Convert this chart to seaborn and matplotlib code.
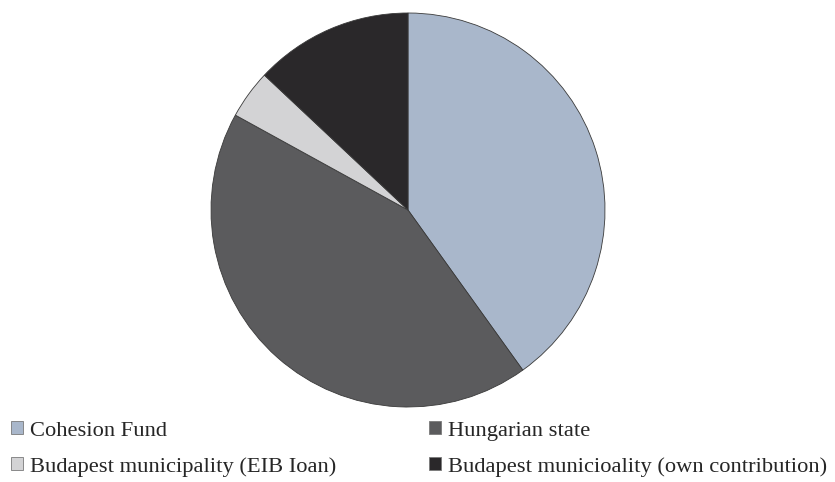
import matplotlib
matplotlib.use("Agg")
import matplotlib.pyplot as plt
from matplotlib.patches import Patch
import seaborn as sns

# Funding shares (%), clockwise from 12 o'clock
sources = ["Cohesion Fund", "Hungarian state",
           "Budapest municipality (EIB Ioan)",
           "Budapest municioality (own contribution)"]
shares = [40.1, 42.9, 4.0, 13.0]
colors = ["#A9B7CB", "#5B5B5D", "#D3D3D5", "#2A282A"]

sns.set_theme(style="white")
plt.rcParams["font.family"] = ["Liberation Serif", "DejaVu Serif"]

fig = plt.figure(figsize=(8.35, 4.82), dpi=100)
W, H = 835, 482
cx, cy, r = 408, 210, 197
ax = fig.add_axes([(cx - r) / W, (H - cy - r) / H, 2 * r / W, 2 * r / H])
ax.pie(shares, colors=colors, startangle=90, counterclock=False,
       wedgeprops=dict(edgecolor="#3a3a3a", linewidth=0.6))
ax.set_xlim(-1, 1)
ax.set_ylim(-1, 1)
ax.set_aspect("equal")
ax.axis("off")

handles = [Patch(facecolor=c, edgecolor="#7a7a7a", linewidth=0.6) for c in colors]
common = dict(frameon=False, fontsize=16.2, handlelength=0.54, handleheight=0.54,
              handletextpad=0.3, labelspacing=0.72, borderaxespad=0,
              borderpad=0, loc="upper left")
fig.legend([handles[0], handles[2]], [sources[0], sources[2]],
           bbox_to_anchor=(11 / W, 1 - 421 / H), **common)
fig.legend([handles[1], handles[3]], [sources[1], sources[3]],
           bbox_to_anchor=(429 / W, 1 - 421 / H), **common)

fig.savefig("out.png", dpi=100, facecolor="white")
